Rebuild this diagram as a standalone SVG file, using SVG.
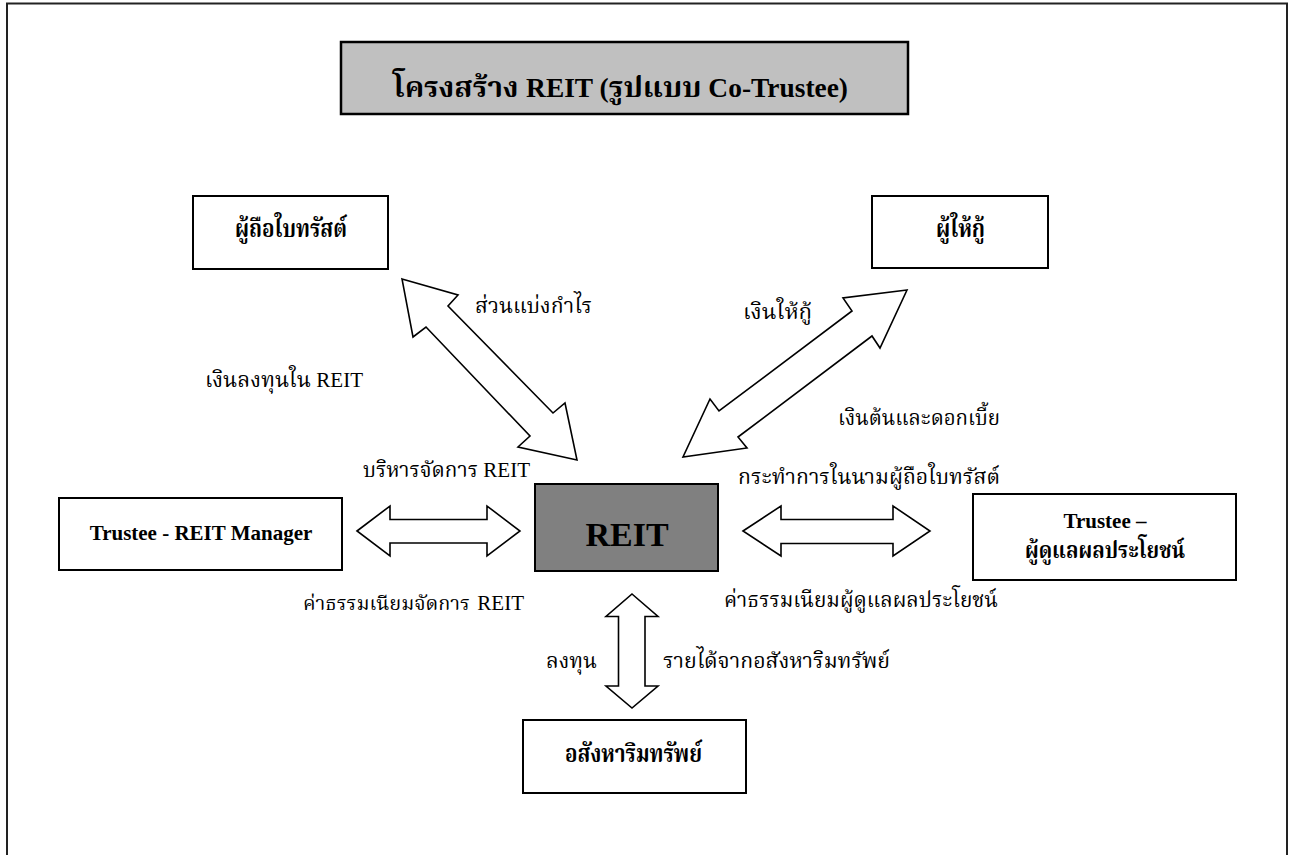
<svg xmlns="http://www.w3.org/2000/svg" width="1291" height="855" viewBox="0 0 1291 855">
<style>
.box{fill:#fff;stroke:#000;stroke-width:2}
.arrow{fill:#fff;stroke:#000;stroke-width:1.6;stroke-linejoin:miter}
.t{font-family:"Noto Serif Thai","Noto Sans Thai","Loma","Garuda","Liberation Serif","DejaVu Serif",serif;fill:#000}
.lat{font-family:"Liberation Serif","Times New Roman",serif;fill:#000}
.b{font-weight:bold}
.lbl{font-size:22px}
.ll{font-size:21px}
.nd{font-size:25px}
</style>
<rect x="0" y="0" width="1291" height="855" fill="#fff"/>
<path d="M7,860 V3.5 H1287 V860" fill="none" stroke="#222" stroke-width="2"/>

<g id="title">
<rect x="341" y="42" width="567" height="72" fill="#c0c0c0" stroke="#000" stroke-width="2.5"/>
<text class="t b" x="393" y="97" font-size="29" textLength="455" lengthAdjust="spacingAndGlyphs">โครงสร้าง <tspan class="lat" font-size="27">REIT (</tspan>รูปแบบ<tspan class="lat" font-size="27"> Co-Trustee)</tspan></text>
</g>

<g id="connectors">
<polygon class="arrow" points="402,279 458,295 448,306 553,413 565,403 577,460 518,447 530,436 426,327 413,337"/>
<polygon class="arrow" points="907,290 843,298 852,311 719,411 710,399 683,457 747,448 738,437 872,336 880,348"/>
<polygon class="arrow" points="357,531 390,506 390,519.5 487,519.5 487,506 520,531 487,556 487,543 390,543 390,556"/>
<polygon class="arrow" points="743,531 781,506 781,519.5 893,519.5 893,506 930,531 893,556 893,543.5 781,543.5 781,556"/>
<polygon class="arrow" points="632,594 658,616.5 645,616.5 645,686 658,686 632,708 606,686 618.5,686 618.5,616.5 606,616.5"/>
<text class="t lbl" x="475" y="313" textLength="117" lengthAdjust="spacingAndGlyphs">ส่วนแบ่งกำไร</text>
<text class="t lbl" x="205" y="387" textLength="106" lengthAdjust="spacingAndGlyphs">เงินลงทุนใน</text>
<text class="lat ll" x="363" y="387" text-anchor="end">REIT</text>
<text class="t lbl" x="363" y="477" textLength="115" lengthAdjust="spacingAndGlyphs">บริหารจัดการ</text>
<text class="lat ll" x="530" y="477" text-anchor="end">REIT</text>
<text class="t" x="303" y="610" font-size="20" textLength="167" lengthAdjust="spacingAndGlyphs">ค่าธรรมเนียมจัดการ</text>
<text class="lat ll" x="524" y="610" text-anchor="end">REIT</text>
<text class="t lbl" x="743" y="319" textLength="69" lengthAdjust="spacingAndGlyphs">เงินให้กู้</text>
<text class="t lbl" x="838" y="425" textLength="162" lengthAdjust="spacingAndGlyphs">เงินต้นและดอกเบี้ย</text>
<text class="t lbl" x="738" y="484" textLength="262" lengthAdjust="spacingAndGlyphs">กระทำการในนามผู้ถือใบทรัสต์</text>
<text class="t lbl" x="724" y="607" textLength="274" lengthAdjust="spacingAndGlyphs">ค่าธรรมเนียมผู้ดูแลผลประโยชน์</text>
<text class="t lbl" x="546" y="668" textLength="51" lengthAdjust="spacingAndGlyphs">ลงทุน</text>
<text class="t lbl" x="663" y="668" textLength="227" lengthAdjust="spacingAndGlyphs">รายได้จากอสังหาริมทรัพย์</text>
</g>

<g id="unitholders">
<rect class="box" x="193" y="196" width="195" height="73"/>
<text class="t b nd" x="235" y="237" textLength="112" lengthAdjust="spacingAndGlyphs">ผู้ถือใบทรัสต์</text>
</g>

<g id="lender">
<rect class="box" x="872" y="196" width="176" height="72"/>
<text class="t b nd" x="936" y="237" textLength="49" lengthAdjust="spacingAndGlyphs">ผู้ให้กู้</text>
</g>

<g id="manager">
<rect class="box" x="59" y="498" width="283" height="72"/>
<text class="lat b" x="201" y="540" font-size="21" text-anchor="middle">Trustee - REIT Manager</text>
</g>

<g id="reit">
<rect x="535" y="484" width="183" height="87" fill="#808080" stroke="#000" stroke-width="2"/>
<text class="lat b" x="627" y="546" font-size="34" text-anchor="middle">REIT</text>
</g>

<g id="trustee">
<rect class="box" x="973" y="494" width="263" height="86"/>
<text class="lat b" x="1105" y="528" font-size="21" text-anchor="middle">Trustee –</text>
<text class="t b" x="1025" y="558" font-size="23" textLength="160" lengthAdjust="spacingAndGlyphs">ผู้ดูแลผลประโยชน์</text>
</g>

<g id="property">
<rect class="box" x="523" y="720" width="223" height="73"/>
<text class="t b nd" x="565" y="762" textLength="137" lengthAdjust="spacingAndGlyphs">อสังหาริมทรัพย์</text>
</g>
</svg>
